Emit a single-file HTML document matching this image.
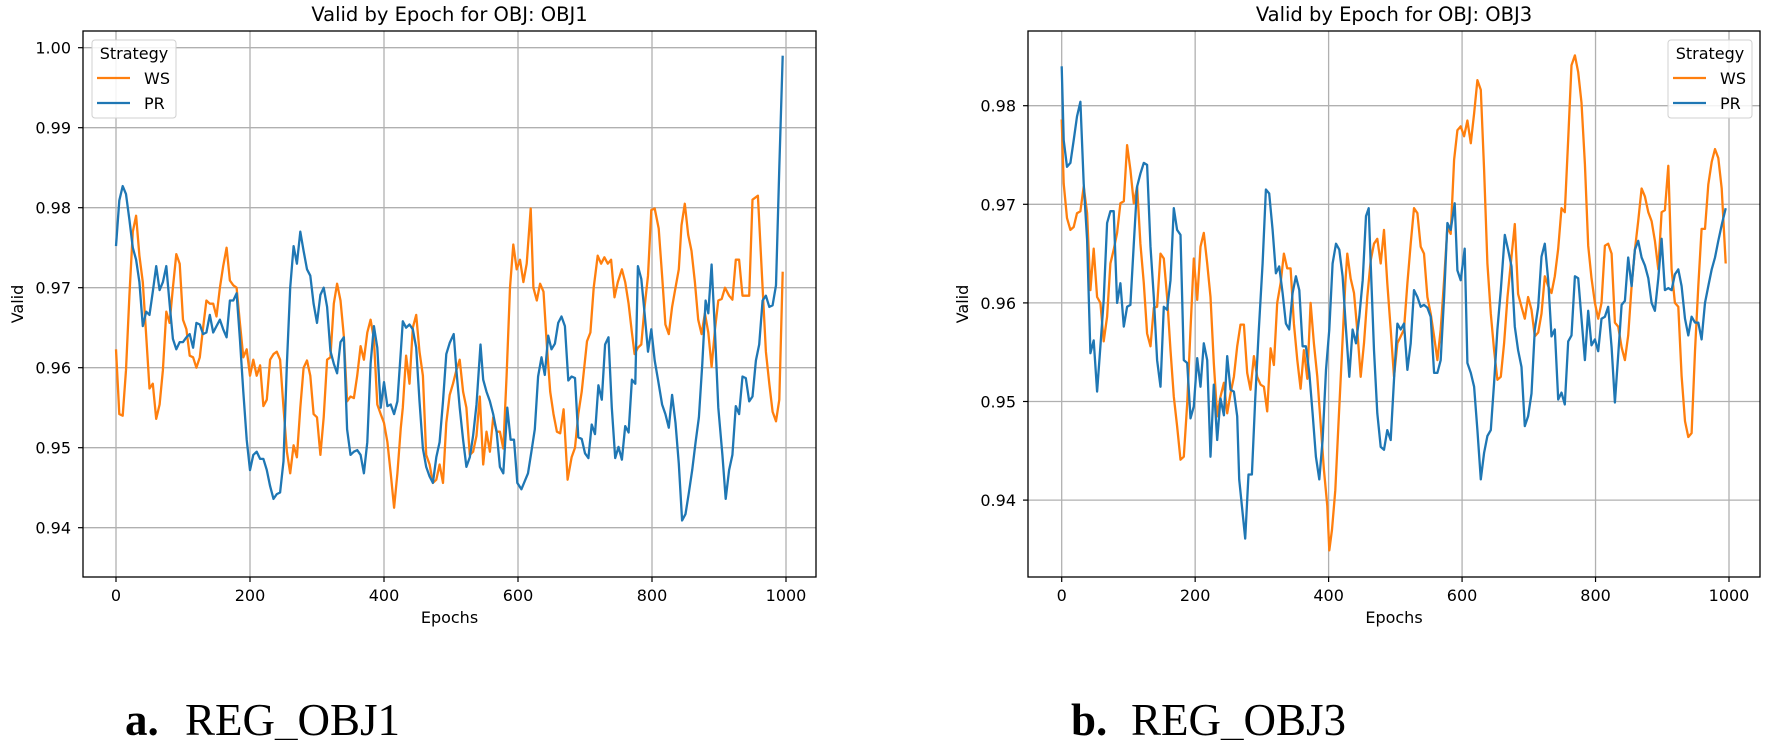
<!DOCTYPE html>
<html><head><meta charset="utf-8">
<style>
html,body{margin:0;padding:0;background:#fff;width:1772px;height:740px;overflow:hidden;}
svg text{font-family:"DejaVu Sans","Liberation Sans",sans-serif;fill:#000;}
</style></head>
<body>
<svg id="fig" width="1772" height="740" xmlns="http://www.w3.org/2000/svg">
<text y="735" style="font-family:'Liberation Serif',serif;font-size:45px"><tspan x="125" font-weight="bold">a.</tspan><tspan x="185">REG_OBJ1</tspan></text>
<text y="735" style="font-family:'Liberation Serif',serif;font-size:45px"><tspan x="1071" font-weight="bold">b.</tspan><tspan x="1131">REG_OBJ3</tspan></text>
</svg>
<script>
const xTicks=[0,200,400,600,800,1000];
const yTicks1=[0.94,0.95,0.96,0.97,0.98,0.99,1.00];
const yTicks3=[0.94,0.95,0.96,0.97,0.98];
const ws1=[[0,.9623],[5,.9542],[10,.954],[15,.9597],[20,.969],[25,.977],[30,.979],[35,.974],[40,.9707],[45,.964],[50,.9574],[55,.958],[60,.9536],[65,.9554],[70,.9597],[75,.967],[80,.9656],[85,.970],[90,.9742],[95,.973],[100,.966],[105,.9648],[110,.9615],[115,.9613],[120,.960],[125,.9613],[130,.965],[135,.9684],[140,.968],[145,.968],[150,.9664],[155,.970],[160,.9727],[165,.975],[170,.9709],[175,.9703],[180,.970],[185,.9656],[190,.9613],[195,.9623],[200,.959],[205,.961],[210,.959],[215,.9603],[220,.9552],[225,.956],[230,.961],[235,.9617],[240,.962],[245,.961],[250,.955],[255,.9495],[260,.9468],[265,.9503],[270,.9488],[275,.955],[280,.960],[285,.9609],[290,.959],[295,.9542],[300,.9538],[305,.9491],[310,.9538],[315,.961],[320,.9613],[325,.968],[330,.9705],[335,.9684],[340,.964],[345,.9558],[350,.9564],[355,.9562],[360,.959],[365,.9627],[370,.961],[375,.9644],[380,.966],[385,.9636],[390,.9554],[395,.9542],[400,.9531],[405,.9507],[410,.9468],[415,.9425],[420,.9468],[425,.9525],[428,.955],[433,.9615],[438,.958],[443,.965],[448,.9666],[453,.962],[458,.959],[463,.9491],[468,.9479],[473,.9456],[478,.946],[483,.9479],[488,.9456],[493,.9531],[498,.9566],[503,.958],[508,.9597],[513,.961],[518,.957],[523,.955],[528,.9491],[533,.9495],[538,.9515],[543,.9564],[548,.9479],[553,.952],[558,.9495],[563,.9538],[568,.952],[573,.952],[578,.9499],[583,.959],[588,.970],[593,.9754],[598,.9723],[603,.9735],[608,.9707],[613,.973],[619,.9799],[623,.970],[628,.9684],[633,.9705],[638,.9695],[643,.9629],[648,.957],[653,.9542],[658,.952],[663,.9518],[668,.9548],[674,.946],[680,.9488],[685,.95],[690,.9542],[695,.957],[703,.9633],[708,.9644],[713,.970],[719,.974],[724,.973],[729,.9738],[734,.973],[739,.9735],[744,.9688],[749,.9707],[755,.9723],[760,.9707],[765,.968],[770,.9644],[774,.9617],[779,.9625],[784,.9629],[789,.9676],[794,.9715],[799,.9797],[804,.9799],[810,.9774],[815,.9715],[820,.9654],[825,.9642],[830,.9676],[835,.970],[840,.9723],[844,.9778],[849,.9805],[854,.9766],[859,.9746],[864,.9707],[869,.966],[874,.9642],[879,.9668],[884,.9644],[889,.9601],[894,.9648],[899,.9684],[904,.9686],[909,.970],[915,.969],[920,.9685],[925,.9735],[930,.9735],[935,.969],[940,.969],[945,.969],[950,.981],[958,.9815],[965,.970],[970,.962],[975,.958],[980,.9545],[985,.9533],[990,.956],[995,.972]];
const pr1=[[0,.9752],[5,.9809],[10,.9827],[15,.9817],[20,.9785],[25,.975],[30,.9735],[35,.9707],[40,.9652],[45,.967],[50,.9666],[55,.9695],[60,.9727],[65,.9697],[70,.9707],[75,.9727],[80,.968],[85,.9636],[90,.9623],[95,.9632],[100,.9632],[105,.9638],[110,.9642],[115,.9625],[120,.9656],[125,.9654],[130,.9642],[135,.9644],[140,.9666],[145,.9644],[150,.9652],[155,.966],[160,.9648],[165,.9638],[170,.9684],[175,.9684],[180,.9693],[185,.9636],[190,.957],[195,.951],[200,.9472],[205,.9491],[210,.9495],[215,.9486],[220,.9486],[225,.9472],[230,.9452],[235,.9436],[240,.9442],[245,.9444],[250,.9483],[255,.9605],[260,.970],[265,.9752],[270,.973],[275,.977],[280,.9746],[285,.9723],[290,.9715],[295,.968],[300,.9656],[305,.9691],[310,.970],[315,.9676],[320,.9621],[325,.9605],[330,.9593],[335,.9632],[340,.9638],[345,.9523],[350,.9491],[355,.9495],[360,.9497],[365,.9491],[370,.9468],[375,.9507],[380,.9605],[385,.9652],[390,.9625],[395,.955],[400,.9582],[405,.9552],[410,.9554],[415,.9542],[420,.9558],[425,.962],[428,.9658],[433,.965],[438,.9654],[443,.9648],[448,.9625],[453,.9558],[458,.9499],[463,.9476],[468,.9464],[473,.9456],[478,.9488],[483,.9507],[488,.9558],[493,.9617],[498,.9631],[504,.9642],[508,.9597],[513,.955],[518,.951],[523,.9476],[528,.9488],[533,.9515],[538,.9554],[544,.9629],[548,.9585],[553,.957],[558,.9558],[563,.9542],[568,.952],[573,.9476],[578,.9468],[584,.955],[589,.951],[594,.951],[599,.9456],[605,.9448],[610,.9458],[615,.9468],[620,.9495],[625,.9523],[630,.9589],[635,.9613],[640,.9591],[645,.964],[650,.9623],[655,.963],[660,.9656],[665,.9664],[670,.9652],[675,.9584],[680,.9589],[685,.9587],[690,.9513],[695,.9511],[700,.9493],[705,.9487],[710,.9529],[715,.9517],[720,.9578],[725,.956],[730,.9629],[735,.9638],[740,.955],[745,.9487],[750,.9501],[755,.9485],[760,.9527],[765,.9519],[770,.9585],[775,.958],[779,.9727],[784,.9711],[789,.9668],[794,.962],[799,.9648],[804,.9609],[809,.9585],[815,.9554],[820,.9542],[825,.9525],[830,.9566],[835,.9531],[840,.948],[845,.9409],[850,.9417],[855,.9444],[860,.9472],[865,.9507],[870,.9538],[875,.9605],[880,.9684],[884,.9668],[889,.9729],[894,.9644],[899,.955],[905,.9491],[910,.9436],[915,.9472],[920,.9491],[925,.9552],[930,.9542],[935,.9589],[940,.9587],[945,.9558],[950,.9564],[955,.9609],[960,.9629],[965,.9684],[970,.969],[975,.9676],[980,.9678],[985,.9703],[990,.985],[995,.999]];
const ws3=[[0,.9786],[3,.9721],[8,.9686],[13,.9674],[18,.9677],[23,.9691],[28,.9693],[33,.9718],[38,.9691],[43,.9613],[48,.9655],[53,.9606],[58,.96],[63,.9561],[68,.9586],[73,.964],[78,.9654],[83,.9671],[88,.9701],[93,.9703],[98,.976],[103,.9735],[108,.9701],[113,.9718],[118,.966],[123,.962],[128,.9569],[133,.9556],[138,.9595],[143,.9596],[148,.965],[153,.9645],[158,.9606],[163,.9552],[168,.9505],[173,.9475],[178,.9441],[183,.9444],[188,.9498],[193,.9573],[198,.9645],[203,.9603],[208,.9657],[213,.9671],[218,.964],[223,.9606],[228,.9539],[233,.9485],[238,.9505],[243,.9519],[248,.9488],[253,.9508],[258,.9525],[263,.9556],[268,.9578],[273,.9578],[278,.9529],[283,.9512],[288,.9546],[293,.9525],[298,.9517],[303,.9515],[308,.949],[313,.9554],[318,.9537],[323,.96],[328,.962],[333,.965],[338,.9635],[343,.9635],[348,.9579],[353,.9542],[358,.9513],[363,.9552],[368,.9523],[373,.96],[378,.9559],[383,.9525],[388,.9478],[393,.9431],[398,.9394],[401,.9349],[405,.937],[410,.941],[415,.948],[420,.955],[425,.962],[428,.965],[433,.9625],[438,.961],[443,.9572],[448,.9525],[453,.9559],[458,.9606],[463,.9643],[468,.966],[473,.9665],[478,.964],[483,.9674],[488,.962],[493,.9573],[498,.9525],[503,.9559],[508,.9566],[513,.9573],[518,.962],[523,.966],[528,.9696],[533,.9691],[538,.9657],[543,.965],[548,.9606],[553,.9589],[558,.9566],[563,.9542],[568,.9573],[573,.9623],[578,.9677],[583,.967],[588,.9745],[593,.9775],[598,.9779],[603,.9769],[608,.9785],[613,.9762],[618,.9792],[623,.9826],[628,.9816],[633,.9735],[638,.964],[643,.9589],[648,.9552],[653,.9522],[658,.9525],[663,.9559],[668,.9606],[673,.964],[679,.968],[684,.9609],[689,.9596],[694,.9584],[699,.9606],[704,.9593],[709,.9566],[714,.957],[719,.9589],[724,.9627],[729,.9617],[734,.961],[739,.9627],[744,.9655],[749,.9696],[754,.9692],[759,.9766],[764,.9841],[769,.9851],[774,.9834],[779,.9803],[784,.9741],[789,.9658],[794,.9625],[799,.96],[804,.9584],[809,.96],[814,.9658],[819,.966],[824,.965],[829,.958],[834,.9576],[839,.9555],[844,.9542],[849,.9567],[854,.9617],[859,.9654],[864,.9683],[869,.9716],[874,.9708],[879,.9692],[884,.9683],[889,.9663],[894,.9634],[899,.9692],[904,.9694],[909,.9739],[914,.9634],[919,.96],[924,.9596],[929,.9526],[934,.948],[939,.9464],[944,.9468],[949,.9551],[954,.9617],[959,.9675],[964,.9675],[969,.972],[974,.9743],[979,.9756],[984,.9747],[989,.9716],[995,.964]];
const pr3=[[0,.984],[3,.9765],[8,.9738],[13,.9742],[18,.9765],[23,.9789],[28,.9804],[33,.9721],[38,.9664],[43,.9549],[48,.9562],[53,.951],[58,.9556],[63,.9603],[68,.9681],[73,.9693],[78,.9693],[83,.96],[88,.962],[93,.9576],[98,.9596],[103,.9598],[108,.966],[113,.9718],[118,.9731],[123,.9742],[128,.974],[133,.9657],[138,.9606],[143,.9542],[148,.9515],[153,.9596],[158,.9593],[163,.9623],[168,.9696],[173,.9674],[178,.9669],[183,.9542],[188,.9539],[193,.9483],[198,.9495],[203,.9544],[208,.9515],[213,.9559],[218,.9542],[223,.9444],[228,.9517],[233,.9461],[238,.9503],[243,.9486],[248,.9546],[253,.9512],[258,.951],[263,.9485],[266,.9421],[270,.9394],[275,.9361],[280,.9426],[285,.9426],[290,.9502],[295,.9569],[301,.964],[306,.9715],[311,.9711],[316,.9674],[321,.963],[326,.9637],[331,.961],[336,.9579],[341,.9573],[346,.961],[351,.9627],[356,.9613],[361,.9556],[366,.9556],[371,.9529],[376,.9488],[381,.9444],[386,.9421],[391,.9461],[396,.9532],[401,.9573],[406,.964],[411,.966],[416,.9654],[421,.9627],[426,.9573],[431,.9525],[436,.9573],[441,.9559],[446,.9586],[451,.9623],[456,.9688],[460,.9696],[463,.964],[468,.9552],[473,.9488],[478,.9454],[483,.9451],[488,.9471],[493,.9461],[498,.9522],[503,.9579],[508,.9573],[513,.9579],[518,.9532],[523,.9559],[528,.9613],[533,.9606],[538,.9596],[543,.9598],[548,.9595],[553,.9586],[558,.9529],[563,.9529],[568,.9542],[573,.9606],[578,.9681],[583,.9674],[589,.9701],[593,.9633],[598,.9623],[604,.9655],[608,.9539],[613,.9529],[618,.9515],[623,.9471],[628,.9421],[633,.9448],[638,.9465],[643,.9471],[648,.9519],[653,.9573],[658,.9613],[664,.9669],[669,.9654],[674,.9637],[679,.9576],[684,.9552],[689,.9535],[694,.9475],[699,.9485],[704,.9508],[709,.9573],[714,.9596],[719,.9647],[724,.966],[729,.9623],[734,.9566],[739,.9573],[744,.9502],[749,.9509],[754,.9497],[759,.9561],[764,.9567],[769,.9627],[774,.9625],[779,.9584],[784,.9542],[789,.9592],[794,.9557],[799,.9563],[804,.9551],[809,.9584],[814,.9586],[819,.9596],[824,.9555],[829,.9499],[834,.9547],[839,.9598],[844,.9602],[849,.9646],[854,.9617],[859,.9654],[864,.9663],[869,.9646],[874,.9638],[879,.9625],[884,.96],[889,.9592],[894,.9625],[899,.9665],[904,.9613],[909,.9615],[914,.9613],[919,.9629],[924,.9634],[929,.9617],[934,.9584],[939,.9567],[944,.9586],[949,.958],[954,.958],[959,.9563],[964,.96],[969,.9617],[974,.9634],[979,.9646],[984,.9663],[989,.9679],[995,.9696]];

const NS="http://www.w3.org/2000/svg";
const fig=document.getElementById('fig');
function mk(tag,attrs,parent){const e=document.createElementNS(NS,tag);for(const k in attrs)e.setAttribute(k,attrs[k]);(parent||fig).appendChild(e);return e;}

function drawChart(cfg){
  const g=mk('g',{});
  
  
  const X=e=>cfg.x0+e*cfg.xs;
  const Y=v=>cfg.yRef-(v-cfg.vRef)*cfg.ys;
  xTicks.forEach(t=>{const l=mk('line',{x1:X(t),x2:X(t),y1:cfg.top,y2:cfg.bottom,stroke:'#b0b0b0','stroke-width':1.3},g);
    
    });
  cfg.yTicks.forEach(t=>{const l=mk('line',{x1:cfg.left,x2:cfg.right,y1:Y(t),y2:Y(t),stroke:'#b0b0b0','stroke-width':1.3},g);
    
    });
  [[cfg.ws,'#ff7f0e','ws-line'],[cfg.pr,'#1f77b4','pr-line']].forEach(([d,c,n])=>{
    const p=mk('polyline',{points:d.map(q=>X(q[0]).toFixed(1)+','+Y(q[1]).toFixed(1)).join(' '),fill:'none',stroke:c,'stroke-width':2.3,'stroke-linejoin':'round'},g);
    
    
  });
  const fr=mk('rect',{x:cfg.left,y:cfg.top,width:cfg.right-cfg.left,height:cfg.bottom-cfg.top,fill:'none',stroke:'#000','stroke-width':1.3},g);
  
  
  xTicks.forEach(t=>{mk('line',{x1:X(t),x2:X(t),y1:cfg.bottom,y2:cfg.bottom+5,stroke:'#000','stroke-width':1.2},g);
    const tx=mk('text',{x:X(t),y:cfg.bottom+24,'text-anchor':'middle','font-size':16},g);tx.textContent=t;
    
    });
  cfg.yTicks.forEach(t=>{mk('line',{x1:cfg.left-5,x2:cfg.left,y1:Y(t),y2:Y(t),stroke:'#000','stroke-width':1.2},g);
    const tx=mk('text',{x:cfg.left-12,y:Y(t)+6,'text-anchor':'end','font-size':16},g);tx.textContent=t.toFixed(2);
    
    });
  const xl=mk('text',{x:(cfg.left+cfg.right)/2,y:623,'text-anchor':'middle','font-size':16},g);xl.textContent='Epochs';
  
  
  const cy=(cfg.top+cfg.bottom)/2;
  const yl=mk('text',{x:cfg.left-60,y:cy,'text-anchor':'middle','font-size':16,transform:`rotate(-90 ${cfg.left-60} ${cy})`},g);yl.textContent='Valid';
  
  
  const ti=mk('text',{x:(cfg.left+cfg.right)/2,y:21,'text-anchor':'middle','font-size':19.5},g);ti.textContent=cfg.title;
  
  
  const lg=mk('g',{},g);
  
  
  const lx=cfg.legX, ly=40;
  mk('rect',{x:lx,y:ly,width:84,height:78,rx:3,fill:'#fff','fill-opacity':0.85,stroke:'#d0d0d0','stroke-width':1},lg);
  const lt=mk('text',{x:lx+42,y:ly+19,'text-anchor':'middle','font-size':16},lg);lt.textContent='Strategy';
  
  
  [['WS','#ff7f0e',ly+38],['PR','#1f77b4',ly+63]].forEach(([n,c,yy])=>{
    mk('line',{x1:lx+5,x2:lx+38,y1:yy,y2:yy,stroke:c,'stroke-width':2.3},lg);
    const t=mk('text',{x:lx+52,y:yy+6,'font-size':16},lg);t.textContent=n;
    
    
  });
}
drawChart({name:'chart-obj1',title:'Valid by Epoch for OBJ: OBJ1',left:83,right:816,top:31,bottom:577,x0:116,xs:0.67,yRef:527.7,vRef:0.94,ys:8000,yTicks:yTicks1,ws:ws1,pr:pr1,legX:92});
drawChart({name:'chart-obj3',title:'Valid by Epoch for OBJ: OBJ3',left:1028,right:1760,top:31,bottom:577,x0:1061.7,xs:0.6673,yRef:500.1,vRef:0.94,ys:9860,yTicks:yTicks3,ws:ws3,pr:pr3,legX:1668});
</script>
</body></html>
